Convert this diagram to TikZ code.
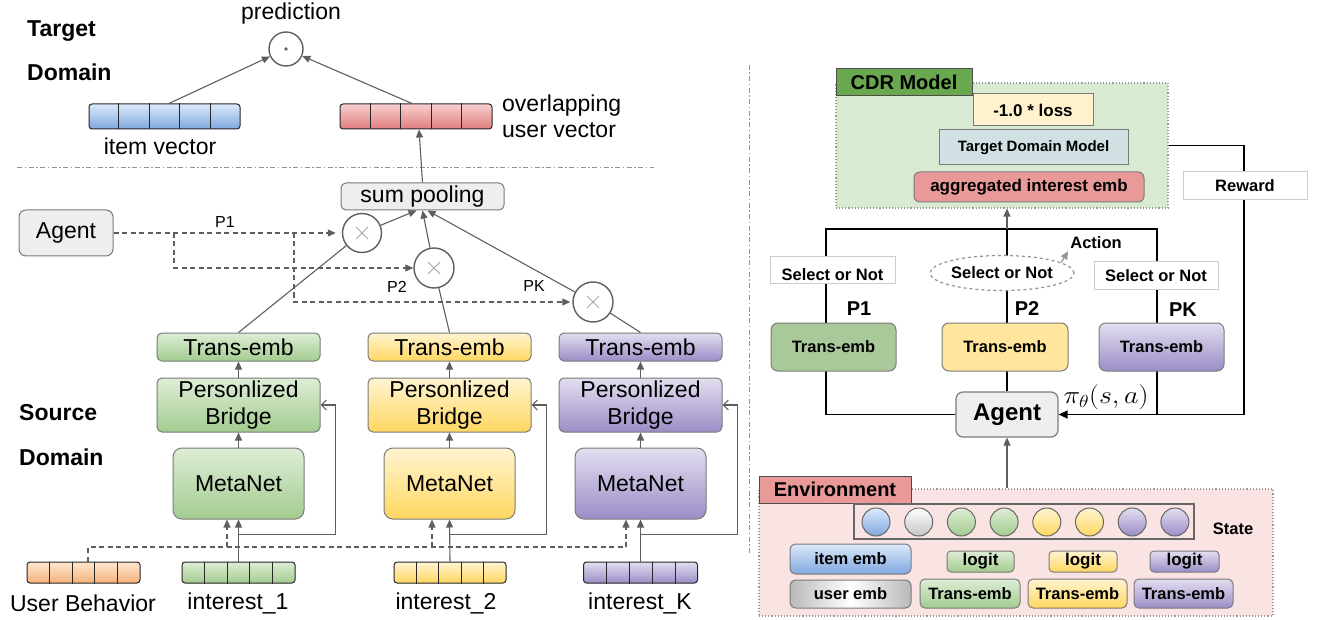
\documentclass[tikz,border=0pt]{standalone}
\usepackage{fix-cm}
\usepackage{graphicx}
\usepackage{fontspec}
\setmainfont{Liberation Sans}
\usetikzlibrary{arrows.meta,calc,shapes.geometric}
\newcommand\fsz[1]{\fontsize{#1}{#1}\selectfont}
\definecolor{lg}{HTML}{5E5E5E}
\definecolor{bgr}{HTML}{7A7A7A}
\definecolor{grT}{HTML}{DDEDD6}\definecolor{grB}{HTML}{A3CC8F}
\definecolor{yeT}{HTML}{FFF4D1}\definecolor{yeB}{HTML}{FFD760}
\definecolor{puT}{HTML}{E3DEF0}\definecolor{puB}{HTML}{9B8DC6}
\definecolor{blT}{HTML}{DCE9FA}\definecolor{blB}{HTML}{7FA7DF}
\definecolor{reT}{HTML}{F8CFCF}\definecolor{reB}{HTML}{E07D7D}
\definecolor{orT}{HTML}{FFE8D1}\definecolor{orB}{HTML}{F5B27A}
\definecolor{boxgray}{HTML}{EEEEEE}
\definecolor{cdrbg}{HTML}{D9EAD3}
\definecolor{cdrtab}{HTML}{6AA84F}
\definecolor{envbg}{HTML}{FAE3E3}
\definecolor{envtab}{HTML}{EA9999}
\definecolor{lossc}{HTML}{FFF2CC}
\definecolor{tdmc}{HTML}{D0E0E3}
\definecolor{aggc}{HTML}{EA9999}
\definecolor{tgr}{HTML}{AAC99B}
\definecolor{tye}{HTML}{FFE69C}
\newcommand\mkvec[3]{%
  \node[vecst,#3] (#1) at (#2) {};
  \foreach \i in {1,...,4}{\draw[draw=black!85, line width=0.9pt] ($(#1.north west)!\i/5!(#1.north east)$) -- ($(#1.south west)!\i/5!(#1.south east)$);}
}
\begin{document}
\begin{tikzpicture}[x=1pt,y=-1pt,
  ln/.style={draw=lg, line width=1.1pt},
  arr/.style={ln, -{Triangle[length=8pt,width=7pt]}},
  dln/.style={ln, dash pattern=on 5pt off 3.5pt},
  darr/.style={dln, -{Triangle[length=8pt,width=7pt]}},
  oarr/.style={ln, -{Straight Barb[length=5pt,width=10pt]}},
  rln/.style={draw=black, line width=1.3pt},
  rarr/.style={rln, -{Triangle[length=9pt,width=8pt]}},
  sep/.style={draw=gray!85, line width=1pt, dash pattern=on 5pt off 2.5pt on 1.5pt off 2.5pt},
  lbox/.style={draw=bgr, line width=1pt, rounded corners=5pt, font=\fsz{23}, inner sep=0pt, align=center},
  vecst/.style={draw=black!85, line width=1pt, rounded corners=3pt, inner sep=0pt},
  mult/.style={circle, draw=lg, line width=1.4pt, minimum size=39pt, inner sep=0pt, fill=white,
    path picture={\draw[gray!70, line width=0.8pt]
      ($(path picture bounding box.center)+(-6,-6)$) -- ($(path picture bounding box.center)+(6,6)$)
      ($(path picture bounding box.center)+(-6,6)$) -- ($(path picture bounding box.center)+(6,-6)$);}},
  txt/.style={font=\fsz{23}, inner sep=0pt},
  btxt/.style={font=\bfseries\fsz{23}, inner sep=0pt, anchor=west},
  rbox/.style={draw=bgr, line width=1pt, font=\bfseries\fsz{16.5}, inner sep=0pt},
]
\useasboundingbox (0,0) rectangle (1322,620);

% ---------------- separators
\draw[sep] (17,168) -- (654,168);
\draw[sep] (749,65) -- (749,555);

% ---------------- target domain
\node[btxt] (tgt) at (27,31) {Target};
\node[btxt] (tdom) at (27,72) {Domain};
\node[txt] (predl) at (291,14) {prediction};
\node[circle, draw=lg, line width=1.4pt, minimum size=34pt, inner sep=0pt] (pred) at (286,49) {};
\fill[lg] (pred.center) circle (1.8pt);
\mkvec{item}{164.5,116.5}{minimum width=151pt, minimum height=25pt, top color=blT, bottom color=blB}
\mkvec{red}{416,116.5}{minimum width=152pt, minimum height=25pt, top color=reT, bottom color=reB}
\node[txt] (iteml) at (160,146) {item vector};
\node[txt, anchor=west, align=left, font=\fsz{23}, text depth=0pt] (ovl) at (502,103) {overlapping};
\node[txt, anchor=west, align=left, font=\fsz{23}] (usl) at (502,130) {user vector};
\draw[arr] ($(item.north)+(4.5,0)$) -- (pred);
\draw[arr] ($(red.north)+(-4,0)$) -- (pred);

% ---------------- source domain
\node[btxt] (src) at (19,413) {Source};
\node[btxt] (sdom) at (19,457) {Domain};
\node[lbox, fill=boxgray, minimum width=163pt, minimum height=27pt] (sum) at (422.5,196.5) {sum pooling};
\draw[arr] (sum.north) -- ($(red.south)+(3,0)$);
\node[lbox, fill=boxgray, minimum width=94pt, minimum height=46pt, rounded corners=7pt] (agl) at (66,233) {Agent};
\node[mult] (c1) at (362,233) {};
\node[mult, minimum size=40pt] (c2) at (434,268) {};
\node[mult, minimum size=40pt] (c3) at (593,302) {};
\coordinate (b1) at (174,233);
\coordinate (b2) at (294,233);
\draw[darr, shorten >=6pt] (agl) -- (c1);
\draw[darr] (b1) |- (c2);
\draw[darr, shorten >=2pt] (b2) |- (c3);
\node[font=\fsz{16}, inner sep=0pt] (p1l) at (225,222) {P1};
\node[font=\fsz{16}, inner sep=0pt] (p2l) at (397,287) {P2};
\node[font=\fsz{16}, inner sep=0pt] (pkl) at (534,286) {PK};
\draw[arr] (c1) -- ($(sum.south)+(-6,0)$);
\draw[arr] (c2) -- ($(sum.south)+(0,0)$);
\draw[arr] (c3) -- ($(sum.south)+(5,0)$);

% columns
\foreach \n/\cx/\tc/\bc in {1/238.5/grT/grB, 2/449.5/yeT/yeB, 3/640.5/puT/puB}{
  \node[lbox, top color=\tc, bottom color=\bc, minimum width=163pt, minimum height=28pt] (t\n) at (\cx,347) {Trans-emb};
  \node[lbox, top color=\tc, bottom color=\bc, minimum width=163pt, minimum height=54pt, font=\fontsize{23}{27}\selectfont] (br\n) at (\cx,405) {Personlized\\Bridge};
  \node[lbox, top color=\tc, bottom color=\bc, minimum width=131pt, minimum height=71pt, rounded corners=9pt] (m\n) at (\cx,483.5) {MetaNet};
  \draw[arr] (br\n.north) -- (t\n.south);
  \draw[arr] (m\n.north) -- (br\n.south);
}
\draw[ln] (t1.north) -- (c1);
\draw[ln] (t2.north) -- (c2);
\draw[ln] (t3.north) -- (c3);

\mkvec{ub}{83.5,572.5}{minimum width=113pt, minimum height=21pt, top color=orT, bottom color=orB}
\mkvec{iv1}{238.5,572.5}{minimum width=113pt, minimum height=21pt, top color=grT, bottom color=grB}
\mkvec{iv2}{450,572.5}{minimum width=112pt, minimum height=21pt, top color=yeT, bottom color=yeB}
\mkvec{iv3}{640.5,572.5}{minimum width=114pt, minimum height=21pt, top color=puT, bottom color=puB}
\node[txt] (ubl) at (83,603) {User Behavior};
\node[txt] (iv1l) at (238,603) {interest\_1};
\node[txt] (iv2l) at (446,603) {interest\_2};
\node[txt] (iv3l) at (640,603) {interest\_K};

\coordinate (d1) at (227,547);
\coordinate (d2) at (432,547);
\coordinate (d3) at (626,547);
\draw[dln] ($(ub.north)+(4.5,0)$) |- (d3);
\draw[darr] (d1) -- (d1 |- m1.south);
\draw[darr] (d2) -- (d2 |- m2.south);
\draw[darr] (d3) -- (d3 |- m3.south);
\foreach \n in {1,2,3}{
  \draw[arr] (iv\n.north) -- (m\n.south);
  \coordinate (j\n) at ($(iv\n.north)+(0,-27)$);
  \draw[oarr] (j\n) -| ($(br\n.east)+(15,0)$) -- (br\n.east);
}

% ---------------- right side: CDR model
\node[draw=gray!80, dotted, line width=1.1pt, fill=cdrbg, minimum width=332pt, minimum height=125pt, inner sep=0pt] (cdr) at (1002,145.5) {};
\node[draw=black!70, line width=1pt, fill=cdrtab, minimum width=136pt, minimum height=27pt, inner sep=0pt, font=\bfseries\fsz{20}] (cdrt) at (904,82.5) {CDR Model};
\node[rbox, fill=lossc, minimum width=120pt, minimum height=32pt, font=\bfseries\fsz{17}] (loss) at (1033,110) {-1.0 * loss};
\node[rbox, fill=tdmc, minimum width=189pt, minimum height=35pt, font=\bfseries\fsz{15}] (tdm) at (1033.5,147.5) {Target Domain Model};
\node[rbox, fill=aggc, rounded corners=6pt, minimum width=230pt, minimum height=30pt, font=\bfseries\fsz{17}] (agg) at (1029,187) {aggregated interest emb};

% agent and loop
\node[draw=bgr, line width=1.2pt, fill=boxgray, rounded corners=7pt, minimum width=102pt, minimum height=45pt, inner sep=0pt, font=\bfseries\fsz{24}] (agr) at (1007,414.5) {Agent};
\coordinate (tl) at (826,229);
\coordinate (tm) at (1007,229);
\coordinate (tr) at (1157,229);
\coordinate (rx) at (1244,146);
\draw[rln] (agr.west) -| (tl) -- (tr) -- (tr |- agr.east);
\draw[rln] (tm) -- (agr.north);
\draw[rarr] (cdr.east) -| (rx |- agr.east) -- (agr.east);
\draw[arr] (tm) -- (tm |- cdr.south);
\node[draw=gray!40, line width=1pt, fill=white, minimum width=124pt, minimum height=28pt, inner sep=0pt, font=\bfseries\fsz{16.5}] (rew) at (1245,186) {Reward};

\node[draw=gray!40, line width=1pt, fill=white, minimum width=125pt, minimum height=27pt, inner sep=0pt, text height=20pt, text depth=0pt, font=\bfseries\fsz{16.5}] (sel1) at (832.5,270.5) {Select or Not};
\node[ellipse, draw=gray!85, dashed, line width=1.2pt, fill=white, minimum width=123pt, minimum height=35pt, inner sep=0pt, font=\bfseries\fsz{16.5}] (sel2) at (1002,273) {Select or Not};
\node[draw=gray!40, line width=1pt, fill=white, minimum width=124pt, minimum height=28pt, inner sep=0pt, font=\bfseries\fsz{16.5}] (sel3) at (1156,276) {Select or Not};
\node[font=\bfseries\fsz{16.5}, inner sep=0pt] (act) at (1096,243) {Action};
\draw[dln, draw=gray!85, -{Triangle[length=8pt,width=7pt]}] (sel2.10) -- ($(act.south west)+(-2,2)$);

\node[font=\bfseries\fsz{20}, inner sep=0pt] (pp1) at (859,309) {P1};
\node[font=\bfseries\fsz{20}, inner sep=0pt] (pp2) at (1027,309) {P2};
\node[font=\bfseries\fsz{20}, inner sep=0pt] (ppk) at (1183,310) {PK};
\node[rbox, fill=tgr, rounded corners=7pt, minimum width=125pt, minimum height=48pt] (rt1) at (833.5,347) {Trans-emb};
\node[rbox, fill=tye, rounded corners=7pt, minimum width=126pt, minimum height=48pt] (rt2) at (1005,347) {Trans-emb};
\node[rbox, top color=puT, bottom color=puB, rounded corners=7pt, minimum width=125pt, minimum height=48pt] (rt3) at (1161.5,347) {Trans-emb};
\node[inner sep=0pt, font=\fsz{25}] (pil) at (1106,397) {\scalebox{1.12}[1]{$\pi_\theta(s,a)$}};

% ---------------- environment
\node[draw=gray!80, dotted, line width=1.1pt, fill=envbg, minimum width=514pt, minimum height=127pt, inner sep=0pt] (env) at (1016,552.5) {};
\node[draw=black!70, line width=1pt, fill=envtab, minimum width=152pt, minimum height=27pt, inner sep=0pt, font=\bfseries\fsz{20}] (envt) at (835,489.5) {Environment};
\draw[arr] (agr.south |- env.north) -- (agr.south);
\node[draw=black!60, line width=1.2pt, minimum width=340pt, minimum height=35pt, inner sep=0pt] (state) at (1024,521.5) {};
\foreach \cx/\tc/\bc [count=\k] in {876/blT/blB, 918.7/white/gray!45, 961.4/grT/grB, 1004.1/grT/grB, 1046.8/yeT/yeB, 1089.5/yeT/yeB, 1132.2/puT/puB, 1174.9/puT/puB}{
  \node[circle, draw=black!60, line width=1pt, minimum size=28pt, inner sep=0pt, top color=\tc, bottom color=\bc] (s\k) at (\cx,522) {};
}
\node[font=\bfseries\fsz{16.5}, inner sep=0pt] (stl) at (1233,529) {State};
\node[rbox, rounded corners=6pt, top color=blT, bottom color=blB, minimum width=121pt, minimum height=30pt] (iemb) at (850.5,559) {item emb};
\node[rbox, rounded corners=6pt, left color=gray!55, right color=gray!55, middle color=white, minimum width=121pt, minimum height=28pt] (uemb) at (850.5,594) {user emb};
\node[rbox, rounded corners=4pt, top color=grT, bottom color=grB, minimum width=67pt, minimum height=21pt, font=\bfseries\fsz{17}] (lg1) at (980.5,561.5) {logit};
\node[rbox, rounded corners=4pt, top color=yeT, bottom color=yeB, minimum width=68pt, minimum height=21pt, font=\bfseries\fsz{17}] (lg2) at (1083,561.5) {logit};
\node[rbox, rounded corners=4pt, top color=puT, bottom color=puB, minimum width=69pt, minimum height=21pt, font=\bfseries\fsz{17}] (lg3) at (1184.5,561.5) {logit};
\node[rbox, rounded corners=5pt, top color=grT, bottom color=grB, minimum width=100pt, minimum height=29pt] (et1) at (970,593.5) {Trans-emb};
\node[rbox, rounded corners=5pt, top color=yeT, bottom color=yeB, minimum width=99pt, minimum height=29pt] (et2) at (1077.5,593.5) {Trans-emb};
\node[rbox, rounded corners=5pt, top color=puT, bottom color=puB, minimum width=99pt, minimum height=29pt] (et3) at (1183.5,593.5) {Trans-emb};
\end{tikzpicture}
\end{document}
